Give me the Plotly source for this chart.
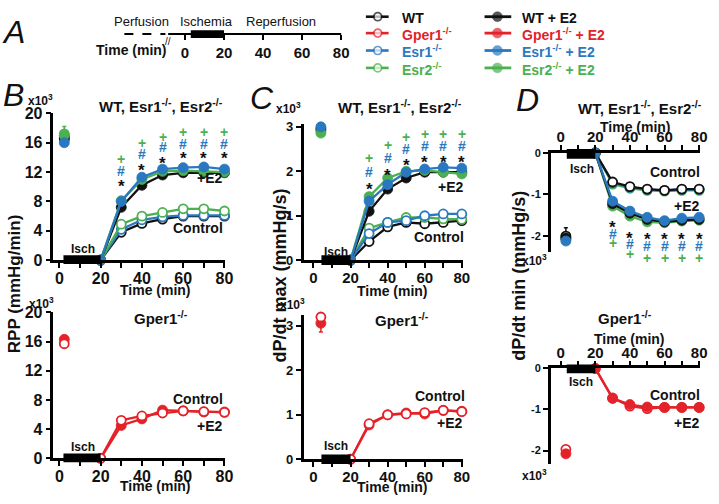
import plotly.graph_objects as go

W, H = 719, 504
FONT = "Liberation Sans, Arial, Helvetica, sans-serif"
BLACK = "#111111"
RED = "#e3222a"
BLUE = "#2a78bf"
GREEN = "#4bb04f"

# ---------------- data ----------------
time_pts = [20, 30, 40, 50, 60, 70, 80]
sig_pts = [30, 40, 50, 60, 70, 80]

# RPP (x10^3 mmHg/min)  -- panel B ; baseline order: WT, WT+E2, Esr1, Esr1+E2, Esr2, Esr2+E2
rpp_base_time = 2.4
rpp_base = [16.9, 16.6, 16.4, 16.0, 17.2, 17.0]
rpp_base_err = [0.0, 0.0, 0.0, 0.0, 1.0, 0.0]
rpp_wt = [0, 3.8, 5.0, 5.6, 6.0, 6.0, 6.0]
rpp_esr1 = [0, 4.2, 5.5, 5.9, 6.1, 6.1, 6.1]
rpp_esr2 = [0, 4.9, 6.0, 6.5, 7.0, 7.0, 6.7]
rpp_wt_e2 = [0, 7.2, 10.2, 11.6, 11.9, 11.9, 11.9]
rpp_esr1_e2 = [0, 8.0, 11.3, 12.4, 12.6, 12.7, 12.4]
rpp_esr2_e2 = [0, 8.1, 11.0, 12.1, 12.2, 12.1, 12.0]
rpp_gper_base = [15.7, 16.3]
rpp_gper = [0, 5.2, 5.8, 6.2, 6.5, 6.4, 6.3]
rpp_gper_e2 = [0, 4.5, 5.4, 6.6, 6.5, 6.35, 6.35]

# dP/dt max (x10^3 mmHg/s)  -- panel C
dmax_base_time = 4.0
dmax_base = [3.1, 2.95, 3.2, 3.0, 2.9, 2.86]
dmax_base_err = [0.0, 0.0, 0.3, 0.0, 0.0, 0.0]
dmax_wt = [0, 0.42, 0.75, 0.85, 0.82, 0.85, 0.89]
dmax_esr1 = [0, 0.60, 0.85, 0.89, 1.00, 1.04, 1.04]
dmax_esr2 = [0, 0.72, 0.85, 0.96, 0.96, 0.93, 0.92]
dmax_wt_e2 = [0, 1.10, 1.60, 1.85, 1.98, 1.98, 1.98]
dmax_esr1_e2 = [0, 1.33, 1.70, 1.98, 2.05, 2.09, 2.07]
dmax_esr2_e2 = [0, 1.43, 1.85, 2.00, 2.02, 1.98, 1.94]
dmax_gper_base = [3.2, 3.06]
dmax_gper_base_err = [0.0, -0.2]
dmax_gper = [0, 0.80, 1.00, 1.02, 1.05, 1.10, 1.07]
dmax_gper_e2 = [0, 0.77, 1.00, 1.04, 1.02, 1.10, 1.08]

# dP/dt min (x10^3 mmHg/s)  -- panel D
dmin_base_time = 3.0
dmin_base = [-2.0, -2.05, -2.05, -2.12, -2.0, -2.08]
dmin_base_err = [0.2, 0.0, 0.0, 0.0, 0.0, 0.0]
dmin_wt = [0, -0.70, -0.81, -0.87, -0.90, -0.87, -0.87]
dmin_esr1 = [0, -0.72, -0.83, -0.88, -0.90, -0.88, -0.88]
dmin_esr2 = [0, -0.75, -0.85, -0.90, -0.92, -0.90, -0.90]
dmin_wt_e2 = [0, -1.22, -1.45, -1.60, -1.66, -1.62, -1.60]
dmin_esr1_e2 = [0, -1.16, -1.40, -1.55, -1.63, -1.57, -1.55]
dmin_esr2_e2 = [0, -1.28, -1.52, -1.66, -1.68, -1.64, -1.62]
dmin_gper_base = [-1.97, -2.08]
dmin_gper = [0, -0.72, -0.92, -0.98, -0.95, -0.95, -0.95]
dmin_gper_e2 = [0, -0.73, -0.88, -0.94, -0.95, -0.95, -0.95]

# ischemia bars (start, end) in minutes per panel column
isch_B = [2.0, 20]
isch_C = [4.3, 20]
isch_D = [3.5, 20]

# ticks
x_tickvals = [0, 10, 20, 30, 40, 50, 60, 70, 80]
x_ticktext = ["0", "", "20", "", "40", "", "60", "", "80"]
rpp_ticks = [0, 4, 8, 12, 16, 20]
dmax_ticks = [0, 1, 2, 3]
dmin_ticks = [0, -1, -2]
dmin_ticktext = ["0", "-1", "-2"]
a_ticks = [0, 20, 40, 60, 80]

# significance marker heights (annotation placement)
B_star = [10.7, 12.9, 13.8, 14.5, 14.5, 14.5]
B_hash = [12.2, 14.5, 15.4, 15.8, 15.8, 15.8]
B_plus = [13.8, 15.9, 16.8, 17.4, 17.4, 17.4]
C_star = [1.70, 2.02, 2.24, 2.30, 2.30, 2.30]
C_hash = [1.98, 2.30, 2.50, 2.57, 2.57, 2.57]
C_plus = [2.30, 2.59, 2.78, 2.85, 2.85, 2.85]
D_star = [-1.67, -1.94, -1.96, -1.96, -1.96, -1.96]
D_hash = [-1.94, -2.19, -2.25, -2.25, -2.25, -2.25]
D_plus = [-2.17, -2.43, -2.52, -2.52, -2.52, -2.52]

# axis value ranges
rng_B = [0, 20]
rng_Ct = [0, 141 / 46]
rng_Cb = [0, 149 / 46]
rng_Dt = [-103 / 43, 0]
rng_Db = [-99 / 42.5, 0]

# ---------------- helpers ----------------
def px(x):
    return x / W

def py(y):
    return 1 - y / H

fig = go.Figure()

def mk(color, filled, size=9):
    if filled:
        return dict(size=size + 1, color=color, line=dict(color=color, width=0.8))
    return dict(size=size, color="white", line=dict(color=color, width=1.8))

def add_series(ax, t, v, color, filled, bt, bv, berr=0.0):
    xa, ya = ax
    fig.add_trace(go.Scatter(
        x=t, y=v, xaxis=xa, yaxis=ya, mode="lines+markers",
        line=dict(color=color, width=2.3), marker=mk(color, filled),
        cliponaxis=False, showlegend=False, hoverinfo="skip"))
    up = [berr] if berr > 0 else [0]
    dn = [-berr] if berr < 0 else [0]
    fig.add_trace(go.Scatter(
        x=[bt], y=[bv], xaxis=xa, yaxis=ya, mode="markers",
        marker=mk(color, filled),
        error_y=dict(type="data", array=up, arrayminus=dn, color=color,
                     thickness=1.5, width=2, visible=berr != 0),
        cliponaxis=False, showlegend=False, hoverinfo="skip"))

annotations = []
shapes = []

def ann(text, x, y, size=14, color=BLACK, xanchor="center", yanchor="middle",
        angle=0, italic=False, bold=True):
    annotations.append(dict(
        text=text, x=px(x), y=py(y), xref="paper", yref="paper",
        showarrow=False, xanchor=xanchor, yanchor=yanchor, textangle=angle,
        font=dict(family=FONT, size=size, color=color,
                  weight="bold" if bold else "normal",
                  style="italic" if italic else "normal")))

def sig(xa, ya, rng, ys, sym, color, size=14, yshift=0):
    # y given in data units, placed via the axis domain so it may sit outside the range
    for t, yv in zip(sig_pts, ys):
        annotations.append(dict(
            text=sym, x=t, y=(yv - rng[0]) / (rng[1] - rng[0]),
            xref=xa, yref=ya + " domain", showarrow=False,
            xanchor="center", yanchor="middle", yshift=yshift,
            font=dict(family=FONT, size=size, color=color, weight="bold")))

def isch_bar(xa, se, top, bottom):
    shapes.append(dict(type="rect", xref=xa, yref="paper", x0=se[0], x1=se[1],
                       y0=py(bottom), y1=py(top), fillcolor="black",
                       line=dict(width=0), layer="above"))

# ---------------- panel traces ----------------
axBt = ("x", "y")
add_series(axBt, time_pts, rpp_wt, BLACK, False, rpp_base_time, rpp_base[0], rpp_base_err[0])
add_series(axBt, time_pts, rpp_esr1, BLUE, False, rpp_base_time, rpp_base[2], rpp_base_err[2])
add_series(axBt, time_pts, rpp_esr2, GREEN, False, rpp_base_time, rpp_base[4], rpp_base_err[4])
add_series(axBt, time_pts, rpp_wt_e2, BLACK, True, rpp_base_time, rpp_base[1], rpp_base_err[1])
add_series(axBt, time_pts, rpp_esr2_e2, GREEN, True, rpp_base_time, rpp_base[5], rpp_base_err[5])
add_series(axBt, time_pts, rpp_esr1_e2, BLUE, True, rpp_base_time, rpp_base[3], rpp_base_err[3])

axCt = ("x2", "y2")
add_series(axCt, time_pts, dmax_wt, BLACK, False, dmax_base_time, dmax_base[0], dmax_base_err[0])
add_series(axCt, time_pts, dmax_esr2, GREEN, False, dmax_base_time, dmax_base[4], dmax_base_err[4])
add_series(axCt, time_pts, dmax_esr1, BLUE, False, dmax_base_time, dmax_base[2], dmax_base_err[2])
add_series(axCt, time_pts, dmax_wt_e2, BLACK, True, dmax_base_time, dmax_base[1], dmax_base_err[1])
add_series(axCt, time_pts, dmax_esr2_e2, GREEN, True, dmax_base_time, dmax_base[5], dmax_base_err[5])
add_series(axCt, time_pts, dmax_esr1_e2, BLUE, True, dmax_base_time, dmax_base[3], dmax_base_err[3])

axDt = ("x3", "y3")
add_series(axDt, time_pts, dmin_esr2, GREEN, False, dmin_base_time, dmin_base[4], dmin_base_err[4])
add_series(axDt, time_pts, dmin_esr1, BLUE, False, dmin_base_time, dmin_base[2], dmin_base_err[2])
add_series(axDt, time_pts, dmin_wt, BLACK, False, dmin_base_time, dmin_base[0], dmin_base_err[0])
add_series(axDt, time_pts, dmin_esr2_e2, GREEN, True, dmin_base_time, dmin_base[5], dmin_base_err[5])
add_series(axDt, time_pts, dmin_wt_e2, BLACK, True, dmin_base_time, dmin_base[1], dmin_base_err[1])
add_series(axDt, time_pts, dmin_esr1_e2, BLUE, True, dmin_base_time, dmin_base[3], dmin_base_err[3])

add_series(("x4", "y4"), time_pts, rpp_gper_e2, RED, True, rpp_base_time, rpp_gper_base[1])
add_series(("x4", "y4"), time_pts, rpp_gper, RED, False, rpp_base_time, rpp_gper_base[0])
add_series(("x5", "y5"), time_pts, dmax_gper_e2, RED, True, dmax_base_time, dmax_gper_base[1], dmax_gper_base_err[1])
add_series(("x5", "y5"), time_pts, dmax_gper, RED, False, dmax_base_time, dmax_gper_base[0], dmax_gper_base_err[0])
add_series(("x6", "y6"), time_pts, dmin_gper, RED, False, dmin_base_time, dmin_gper_base[0])
add_series(("x6", "y6"), time_pts, dmin_gper_e2, RED, True, dmin_base_time, dmin_gper_base[1])

for (xa, ya, rng, st, hs, pl) in [("x", "y", rng_B, B_star, B_hash, B_plus),
                                  ("x2", "y2", rng_Ct, C_star, C_hash, C_plus),
                                  ("x3", "y3", rng_Dt, D_star, D_hash, D_plus)]:
    sig(xa, ya, rng, st, "*", BLACK, size=17, yshift=-5)
    sig(xa, ya, rng, hs, "#", BLUE, size=14)
    sig(xa, ya, rng, pl, "+", GREEN, size=14)

isch_bar("x", isch_B, 256, 265)
isch_bar("x4", isch_B, 461, 470)
isch_bar("x2", isch_C, 256, 266)
isch_bar("x5", isch_C, 462, 472)
isch_bar("x3", isch_D, 146, 156)
isch_bar("x6", isch_D, 369, 378)

# ---------------- panel A schematic ----------------
a_line = [-8.6, 80]
a_dash = [-31, -10]
a_bar = [3, 20]
shapes.append(dict(type="line", xref="x7", yref="paper", x0=a_line[0], x1=a_line[1],
                   y0=py(27), y1=py(27), line=dict(color="black", width=2)))
shapes.append(dict(type="line", xref="x7", yref="paper", x0=a_dash[0], x1=a_dash[1],
                   y0=py(27), y1=py(27), line=dict(color="black", width=2, dash="dash")))
shapes.append(dict(type="rect", xref="x7", yref="paper", x0=a_bar[0], x1=a_bar[1],
                   y0=py(31), y1=py(23), fillcolor="black", line=dict(width=0)))
annotations.append(dict(text="//", x=a_line[0], y=py(27), xref="x7", yref="paper",
                        showarrow=False, font=dict(family=FONT, size=10, color=BLACK)))
fig.add_trace(go.Scatter(x=a_line, y=[0, 0], xaxis="x7", yaxis="y7", mode="lines",
                         line=dict(color="rgba(0,0,0,0)"), showlegend=False, hoverinfo="skip"))

# ---------------- legend (manual) ----------------
leg_left = [("WT", BLACK), ("Gper1<sup>-/-</sup>", RED), ("Esr1<sup>-/-</sup>", BLUE), ("Esr2<sup>-/-</sup>", GREEN)]
leg_rows = [9, 26, 44, 62]
for (lab, col), ry in zip(leg_left, leg_rows):
    fig.add_trace(go.Scatter(x=[370, 382, 393], y=[ry, ry, ry], xaxis="x8", yaxis="y8",
                             mode="lines+markers", line=dict(color=col, width=2.6),
                             marker=dict(size=[0, 8, 0], color="white", line=dict(color=col, width=1.7)),
                             showlegend=False, hoverinfo="skip", cliponaxis=False))
    ann(lab, 404, ry + 1, size=14, color=col, xanchor="left")
    fig.add_trace(go.Scatter(x=[490, 503, 517], y=[ry, ry, ry], xaxis="x8", yaxis="y8",
                             mode="lines+markers", line=dict(color=col, width=2.8),
                             marker=dict(size=[0, 10, 0], color=col, line=dict(color=col, width=0.5)),
                             showlegend=False, hoverinfo="skip", cliponaxis=False))
    ann(lab + " + E2", 526, ry + 1, size=14, color=col, xanchor="left")

# ---------------- text annotations ----------------
ann("A", 14, 25, size=32, italic=True, bold=False)
ann("B", 14, 90, size=32, italic=True, bold=False)
ann("C", 265, 93, size=32, italic=True, bold=False)
ann("D", 533, 95, size=32, italic=True, bold=False)

ann("Perfusion", 143, 14, size=13, bold=False)
ann("Ischemia", 209, 14, size=13, bold=False)
ann("Reperfusion", 284, 14, size=13, bold=False)
ann("Time (min)", 133, 43, size=14)

for (x, y) in [(41, 95), (42, 305), (292, 103), (296, 306), (541, 261), (541, 483)]:
    ann("x10<sup>3</sup>", x, y, size=12)

ann("WT, Esr1<sup>-/-</sup>, Esr2<sup>-/-</sup>", 163, 101, size=15)
ann("WT, Esr1<sup>-/-</sup>, Esr2<sup>-/-</sup>", 404, 102, size=15)
ann("WT, Esr1<sup>-/-</sup>, Esr2<sup>-/-</sup>", 647, 103, size=15)
ann("Gper1<sup>-/-</sup>", 163, 320, size=15)
ann("Gper1<sup>-/-</sup>", 407, 322, size=15)
ann("Gper1<sup>-/-</sup>", 632, 320, size=15)

ann("Time (min)", 157, 292, size=14)
ann("Time (min)", 157, 495, size=14)
ann("Time (min)", 397, 293, size=14)
ann("Time (min)", 397, 496, size=14)
ann("Time (min)", 643, 123, size=14)
ann("Time (min)", 637, 343, size=14)

ann("RPP (mmHg/min)", 15, 285, size=17, angle=-90)
ann("dP/dt max (mmHg/s)", 283, 277, size=18, angle=-90)
ann("dP/dt min (mmHg/s)", 524, 277, size=18, angle=-90)

ann("+E2", 228, 176, size=14, xanchor="right")
ann("Control", 228, 228, size=14, xanchor="right")
ann("+E2", 471, 185, size=14, xanchor="right")
ann("Control", 471, 237, size=14, xanchor="right")
ann("Control", 710, 170, size=14, xanchor="right")
ann("+E2", 710, 205, size=14, xanchor="right")
ann("Control", 228, 405, size=14, xanchor="right")
ann("+E2", 228, 433, size=14, xanchor="right")
ann("Control", 472, 402, size=14, xanchor="right")
ann("+E2", 470, 430, size=14, xanchor="right")
ann("Control", 710, 401, size=14, xanchor="right")
ann("+E2", 710, 430, size=14, xanchor="right")

ann("Isch", 84, 249, size=12)
ann("Isch", 84, 454, size=12)
ann("Isch", 340, 252, size=12)
ann("Isch", 340, 453, size=12)
ann("Isch", 589, 167, size=12)
ann("Isch", 588, 387, size=12)

# ---------------- axes ----------------
def xax(p0, p1, zero_px, k, anchor, side="bottom", size=16):
    return dict(domain=[px(p0), px(p1)], range=[(p0 - zero_px) / k, (p1 - zero_px) / k],
                anchor=anchor, side=side, showline=True, linecolor="black", linewidth=2.5,
                ticks="outside", ticklen=5, tickwidth=2, tickcolor="black",
                tickvals=x_tickvals, ticktext=x_ticktext, ticklabelstandoff=-3,
                showgrid=False, zeroline=False, fixedrange=True,
                tickfont=dict(family=FONT, size=size, color=BLACK, weight="bold"))

def yax(top, bottom, rng, anchor, tickvals, ticktext=None, size=16):
    d = dict(domain=[py(bottom), py(top)], range=rng, anchor=anchor,
             showline=True, linecolor="black", linewidth=2.5,
             ticks="outside", ticklen=5, tickwidth=2, tickcolor="black",
             tickvals=tickvals, showgrid=False, zeroline=False, fixedrange=True,
             tickfont=dict(family=FONT, size=size, color=BLACK, weight="bold"))
    if ticktext is not None:
        d["ticktext"] = ticktext
    return d

layout = dict(
    width=W, height=H, autosize=False,
    margin=dict(l=0, r=0, t=0, b=0),
    paper_bgcolor="white", plot_bgcolor="rgba(0,0,0,0)",
    showlegend=False, font=dict(family=FONT, color=BLACK),
    xaxis=xax(54, 228, 60, 2.0875, "y", size=16),
    yaxis=yax(109, 261, rng_B, "x", rpp_ticks, size=16),
    xaxis2=xax(307, 468, 317, 1.875, "y2", size=15),
    yaxis2=yax(120, 261, rng_Ct, "x2", dmax_ticks, size=13),
    xaxis3=xax(557, 708, 567, 1.75, "y3", side="top", size=15),
    yaxis3=yax(150, 253, rng_Dt, "x3", dmin_ticks, dmin_ticktext, size=11),
    xaxis4=xax(54, 228, 60, 2.0875, "y4", size=16),
    yaxis4=yax(315, 466, rng_B, "x4", rpp_ticks, size=16),
    xaxis5=xax(307, 468, 317, 1.875, "y5", size=15),
    yaxis5=yax(318, 467, rng_Cb, "x5", dmax_ticks, size=13),
    xaxis6=xax(557, 708, 567, 1.75, "y6", side="top", size=15),
    yaxis6=yax(373, 472, rng_Db, "x6", dmin_ticks, dmin_ticktext, size=11),
    xaxis7=dict(domain=[px(120), px(350)], range=[(120 - 187) / 1.975, (350 - 187) / 1.975],
                anchor="y7", showline=False, ticks="outside", ticklen=5, tickwidth=1.5,
                tickcolor="black", tickvals=a_ticks, showgrid=False, zeroline=False,
                fixedrange=True, tickfont=dict(family=FONT, size=15, color=BLACK, weight="bold")),
    yaxis7=dict(domain=[py(27), py(17)], range=[0, 1], anchor="x7", visible=False, fixedrange=True),
    xaxis8=dict(domain=[0, 1], range=[0, W], anchor="y8", visible=False, fixedrange=True),
    yaxis8=dict(domain=[0, 1], range=[H, 0], anchor="x8", visible=False, fixedrange=True),
    annotations=annotations, shapes=shapes,
)
fig.update_layout(**layout)
fig.write_html("out.html", config={"displayModeBar": False},
               post_script="document.body.style.margin='0';document.body.style.overflow='hidden';")
